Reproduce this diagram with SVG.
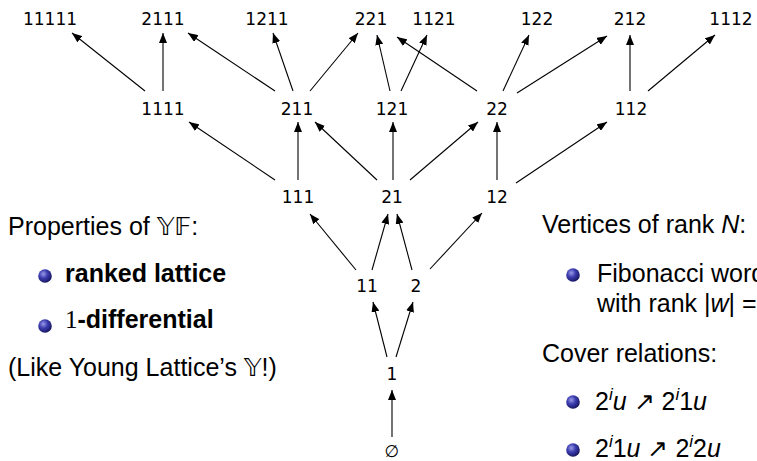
<svg xmlns="http://www.w3.org/2000/svg" width="757" height="461" viewBox="0 0 757 461">
  <defs>
    <marker id="arrow" viewBox="0 0 10 8" refX="10" refY="4" markerWidth="10" markerHeight="8" markerUnits="userSpaceOnUse" orient="auto">
      <path d="M0,0 L10,4 L0,8 z" fill="#000"/>
    </marker>
    <radialGradient id="ball" cx="0.38" cy="0.35" r="0.7">
      <stop offset="0" stop-color="#9a9ae6"/>
      <stop offset="0.45" stop-color="#3c3cb0"/>
      <stop offset="1" stop-color="#14145a"/>
    </radialGradient>
  </defs>
  <style>
    .node text { font-family: "DejaVu Sans", sans-serif; font-size: 17px; fill: #000; text-anchor: middle; }
    .edges line { stroke: #000; stroke-width: 1.1; marker-end: url(#arrow); }
    .side { font-family: "Liberation Sans", Arial, sans-serif; font-size: 25px; fill: #000; }
    .b { font-weight: bold; }
    .rm { font-family: "Liberation Serif", serif; font-weight: normal; }
    .bb { font-family: "DejaVu Sans", "Noto Sans", sans-serif; }
    .it { font-style: italic; }
  </style>
  <rect width="757" height="461" fill="#fff"/>

  <!-- connectors -->
  <g class="edges">
    <line x1="392" y1="437" x2="392" y2="390"/>
    <line x1="387" y1="357" x2="373" y2="302"/>
    <line x1="396" y1="357" x2="413" y2="302"/>
    <line x1="356" y1="270" x2="310" y2="214"/>
    <line x1="372" y1="270" x2="388" y2="214"/>
    <line x1="412" y1="270" x2="397" y2="214"/>
    <line x1="430" y1="269" x2="482" y2="213"/>
    <line x1="275" y1="180" x2="189" y2="122"/>
    <line x1="298" y1="180" x2="298" y2="122"/>
    <line x1="377" y1="180" x2="315" y2="122"/>
    <line x1="393" y1="180" x2="393" y2="122"/>
    <line x1="410" y1="180" x2="478" y2="122"/>
    <line x1="497" y1="180" x2="497" y2="122"/>
    <line x1="516" y1="183" x2="607" y2="122"/>
    <line x1="145" y1="91" x2="72" y2="33"/>
    <line x1="163" y1="91" x2="163" y2="33"/>
    <line x1="275" y1="91" x2="188" y2="33"/>
    <line x1="293" y1="91" x2="273" y2="33"/>
    <line x1="310" y1="91" x2="358" y2="33"/>
    <line x1="390" y1="91" x2="377" y2="35"/>
    <line x1="401" y1="91" x2="427" y2="35"/>
    <line x1="477" y1="91" x2="397" y2="37"/>
    <line x1="503" y1="91" x2="529" y2="35"/>
    <line x1="517" y1="93" x2="607" y2="36"/>
    <line x1="630" y1="91" x2="630" y2="35"/>
    <line x1="648" y1="91" x2="715" y2="35"/>
  </g>

  <!-- rank 0 -->
  <g id="n-empty" class="node"><text x="392" y="457" style="font-size:17px">∅</text></g>
  <!-- rank 1 -->
  <g id="n-1" class="node"><text x="392" y="380">1</text></g>
  <!-- rank 2 -->
  <g id="n-11" class="node"><text x="367" y="292">11</text></g>
  <g id="n-2" class="node"><text x="416" y="292">2</text></g>
  <!-- rank 3 -->
  <g id="n-111" class="node"><text x="298" y="203">111</text></g>
  <g id="n-21" class="node"><text x="392" y="203">21</text></g>
  <g id="n-12" class="node"><text x="497" y="203">12</text></g>
  <!-- rank 4 -->
  <g id="n-1111" class="node"><text x="163" y="115">1111</text></g>
  <g id="n-211" class="node"><text x="297" y="115">211</text></g>
  <g id="n-121" class="node"><text x="392" y="115">121</text></g>
  <g id="n-22" class="node"><text x="497" y="115">22</text></g>
  <g id="n-112" class="node"><text x="631" y="115">112</text></g>
  <!-- rank 5 -->
  <g id="n-11111" class="node"><text x="50" y="25">11111</text></g>
  <g id="n-2111" class="node"><text x="163" y="25">2111</text></g>
  <g id="n-1211" class="node"><text x="267" y="25">1211</text></g>
  <g id="n-221" class="node"><text x="371" y="25">221</text></g>
  <g id="n-1121" class="node"><text x="434" y="25">1121</text></g>
  <g id="n-122" class="node"><text x="537" y="25">122</text></g>
  <g id="n-212" class="node"><text x="630" y="25">212</text></g>
  <g id="n-1112" class="node"><text x="731" y="25">1112</text></g>

  <!-- left notes -->
  <g id="properties">
    <text class="side" x="8" y="235">Properties of <tspan class="bb">𝕐𝔽</tspan>:</text>
    <circle cx="45" cy="276" r="6.8" fill="url(#ball)"/>
    <text class="side b" x="65" y="282">ranked lattice</text>
    <circle cx="45" cy="326" r="6.8" fill="url(#ball)"/>
    <text class="side b" x="65" y="328"><tspan class="rm">1</tspan>-differential</text>
    <text class="side" x="8" y="376">(Like Young Lattice’s <tspan class="bb">𝕐</tspan>!)</text>
  </g>

  <!-- right notes -->
  <g id="vertices">
    <text class="side" x="542" y="233">Vertices of rank <tspan class="it">N</tspan>:</text>
    <circle cx="573" cy="275" r="6.8" fill="url(#ball)"/>
    <text class="side" x="597" y="282">Fibonacci word</text>
    <text class="side" x="597" y="312">with rank |<tspan class="it">w</tspan>| =</text>
    <text class="side" x="542" y="362">Cover relations:</text>
    <circle cx="573" cy="402" r="6.8" fill="url(#ball)"/>
    <text class="side" x="595" y="410">2<tspan class="it" font-size="17" dy="-10">i</tspan><tspan class="it" dy="10">u</tspan> ↗ 2<tspan class="it" font-size="17" dy="-10">i</tspan><tspan dy="10">1</tspan><tspan class="it">u</tspan></text>
    <circle cx="573" cy="450" r="6.8" fill="url(#ball)"/>
    <text class="side" x="595" y="457">2<tspan class="it" font-size="17" dy="-10">i</tspan><tspan dy="10">1</tspan><tspan class="it">u</tspan> ↗ 2<tspan class="it" font-size="17" dy="-10">i</tspan><tspan dy="10">2</tspan><tspan class="it">u</tspan></text>
  </g>
</svg>
